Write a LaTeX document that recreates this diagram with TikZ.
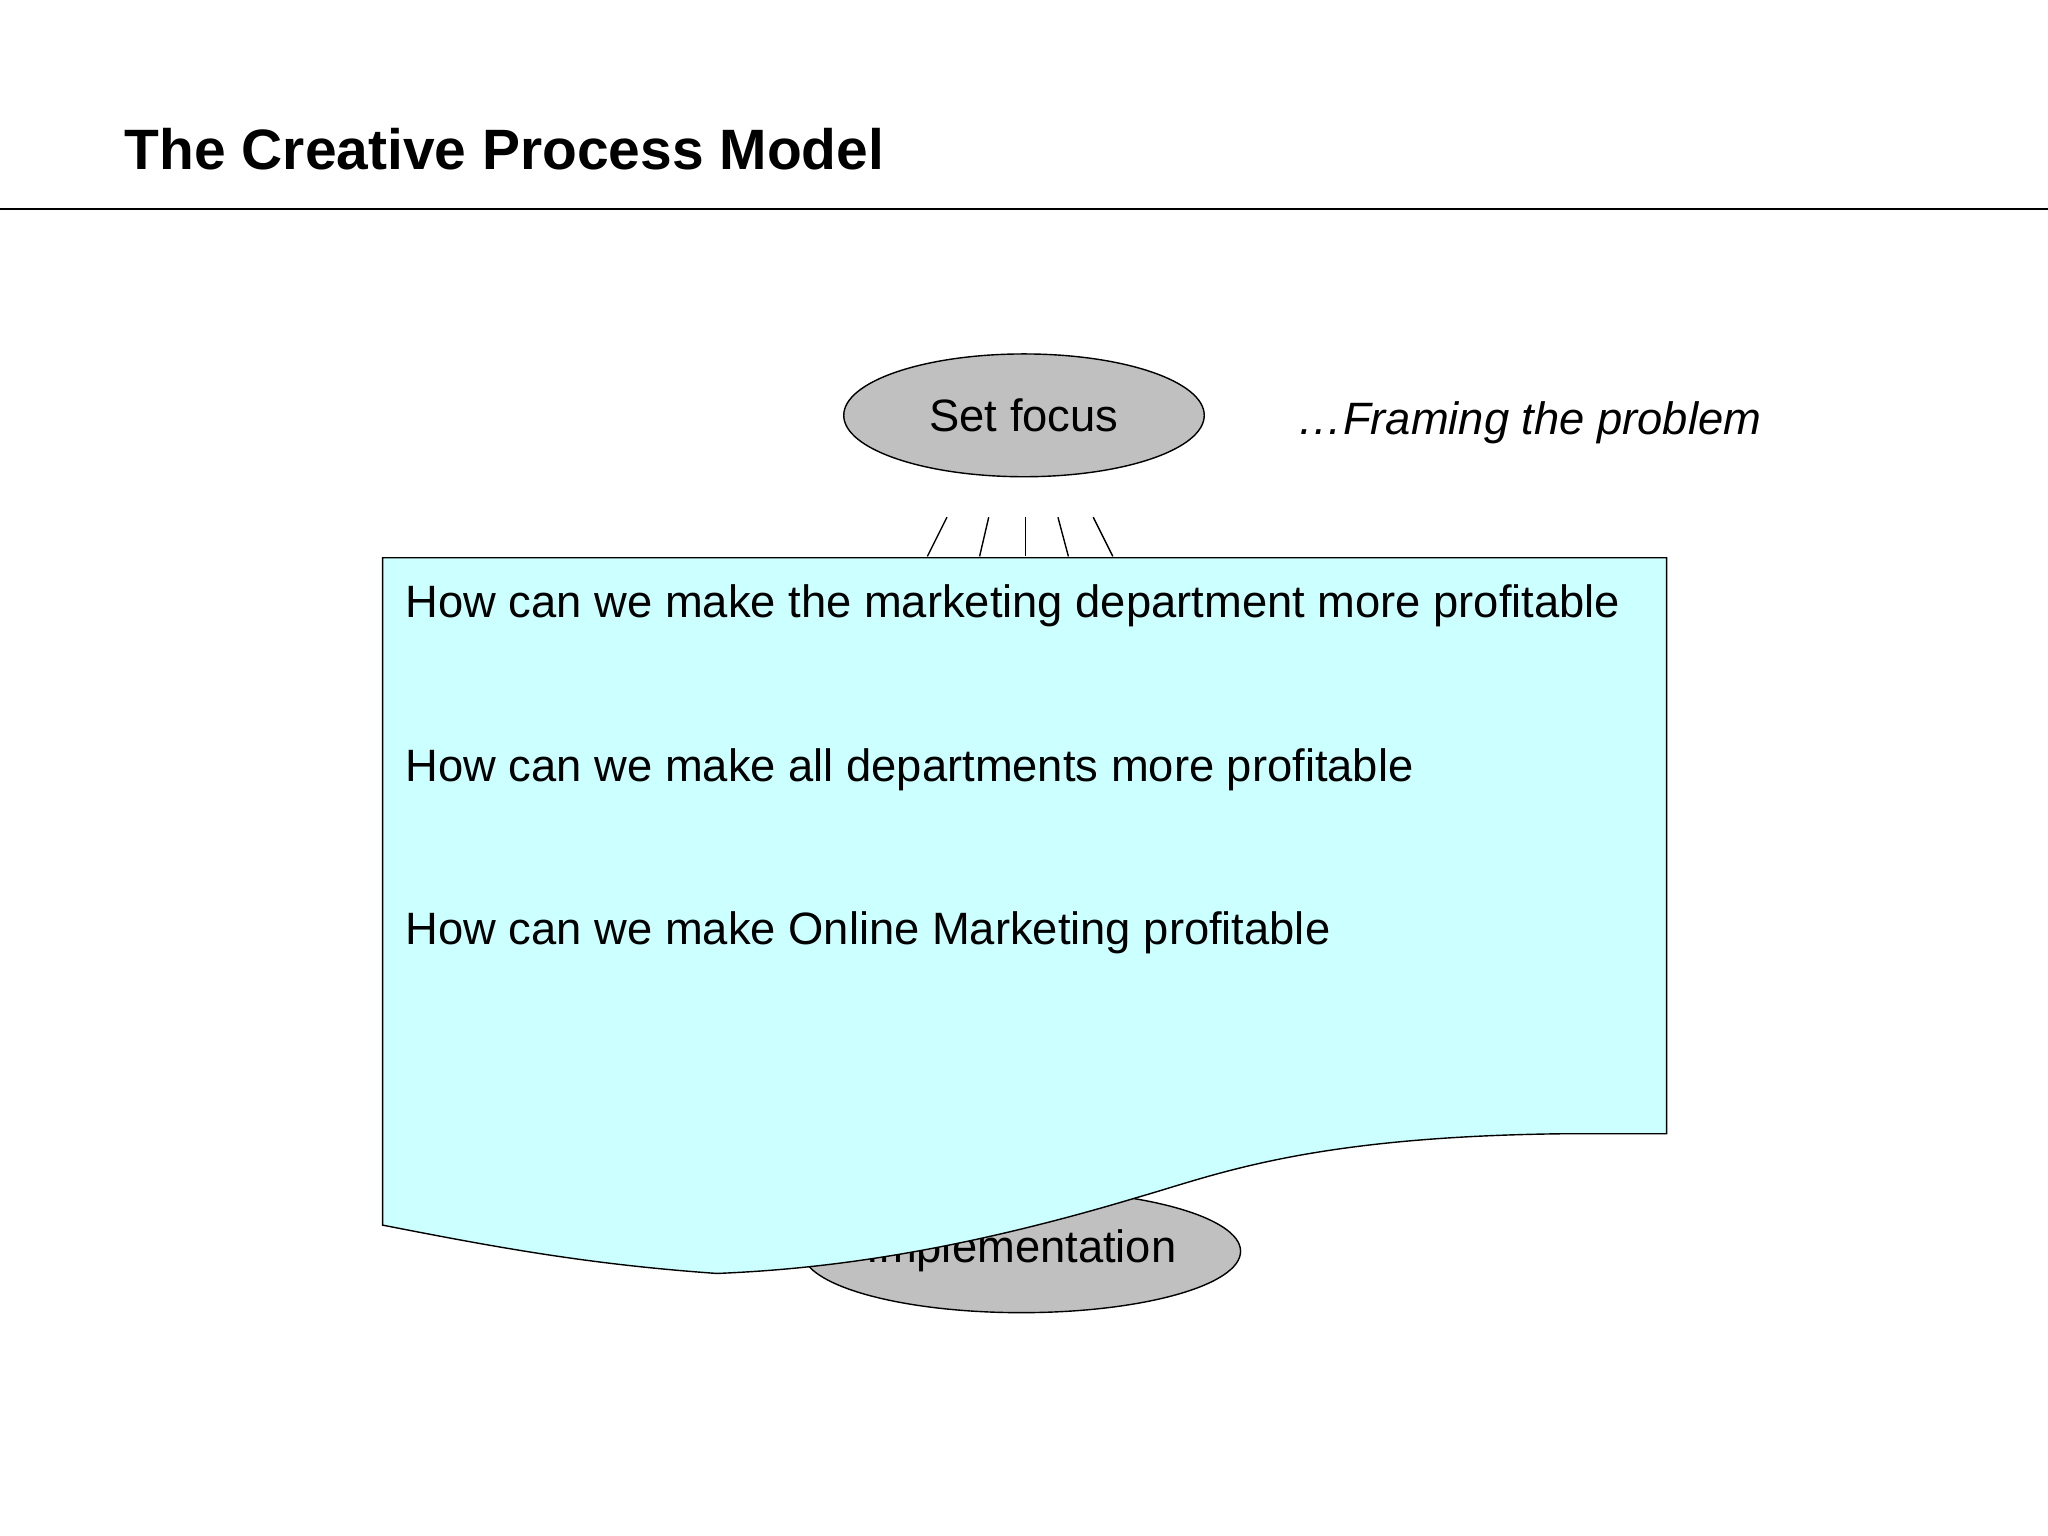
\documentclass[tikz,border=0pt]{standalone}
\usepackage{fontspec}
\setmainfont{Liberation Sans}
\usetikzlibrary{shapes.geometric}
\begin{document}
\begin{tikzpicture}[x=0.013061cm,y=-0.013061cm,
  oval/.style={ellipse,draw,fill={rgb,255:red,192;green,192;blue,192},minimum width=3.605cm,minimum height=1.228cm,inner sep=0,font=\fontsize{12.9}{15}\selectfont},
  qtext/.style={anchor=base west,inner sep=0,font=\fontsize{12.9}{15}\selectfont}]
\useasboundingbox (0,0) rectangle (1568,1176);
\node[anchor=base west,inner sep=0,font=\fontsize{16.2}{19}\selectfont\bfseries] (title) at (95,130) {The Creative Process Model};
\draw (0,160) -- (1568,160);
\node[oval] (focus) at (784,318) {Set focus};
\node[anchor=base west,inner sep=0,font=\fontsize{12.9}{15}\selectfont\itshape] (frame) at (993,333) {\dots Framing the problem};
\node[oval] (impl) at (782,958) {Implementation};
\draw (725,396) -- (710,426);
\draw (757,396) -- (750,426);
\draw (785,396) -- (785,426);
\draw (810,396) -- (818,426);
\draw (837,396) -- (852,426);
\draw[fill={rgb,255:red,204;green,255;blue,255}] (293,427) -- (1276,427) -- (1276,868) -- (1200,868)
  .. controls (1000,870) and (930,900) .. (870,917)
  .. controls (720,962) and (620,972) .. (549,975)
  .. controls (450,968) and (380,955) .. (293,938) -- cycle;
\node[qtext] (q1) at (310,473) {How can we make the marketing department more profitable};
\node[qtext] (q2) at (310,598) {How can we make all departments more profitable};
\node[qtext] (q3) at (310,723) {How can we make Online Marketing profitable};
\end{tikzpicture}
\end{document}
